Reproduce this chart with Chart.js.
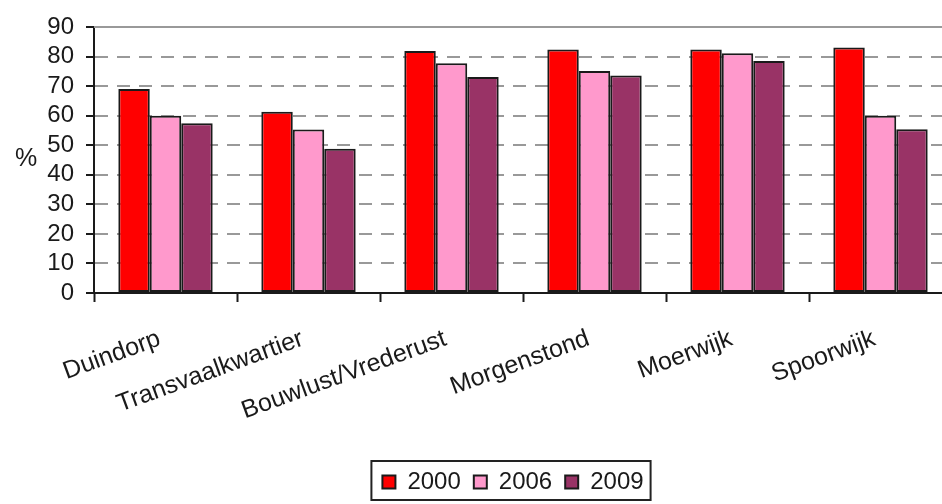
<!DOCTYPE html>
<html>
<head>
<meta charset="utf-8">
<script src="https://cdn.jsdelivr.net/npm/chart.js@4"></script>
<style>
  body { margin: 0; background: #fff; overflow: hidden; }
  #wrap { width: 942px; height: 504px; overflow: hidden; }
</style>
</head>
<body>
<div id="wrap"><canvas id="myChart" width="1026" height="504"></canvas></div>
<script>
const wijken = ["Duindorp", "Transvaalkwartier", "Bouwlust/Vrederust", "Morgenstond", "Moerwijk", "Spoorwijk"];
const jaren = ["2000", "2006", "2009"];
const waarden2000 = [69, 61.3, 81.9, 82.4, 82.4, 83.1];
const waarden2006 = [60, 55.3, 77.7, 75.1, 81.1, 60];
const waarden2009 = [57.4, 48.8, 73.1, 73.6, 78.5, 55.4];
const yTicks = [0, 10, 20, 30, 40, 50, 60, 70, 80, 90];

const font = "'Liberation Sans', Arial, sans-serif";
const plotBottom = 293;

// solid top gridline, "%" label and the frame round the legend
const extras = {
  id: "extras",
  beforeDatasetsDraw(chart) {
    const ctx = chart.ctx;
    const y = chart.scales.y.getPixelForValue(90);
    ctx.save();
    ctx.strokeStyle = "#999";
    ctx.lineWidth = 2;
    ctx.beginPath();
    ctx.moveTo(chart.chartArea.left, y);
    ctx.lineTo(chart.chartArea.right, y);
    ctx.stroke();
    ctx.restore();
  },
  afterDraw(chart) {
    const ctx = chart.ctx;
    ctx.save();
    ctx.fillStyle = "#1a1a1a";
    ctx.font = "25px " + font;
    ctx.textAlign = "center";
    ctx.textBaseline = "middle";
    ctx.fillText("%", 26, 159);
    const boxes = chart.legend.legendHitBoxes;
    if (boxes && boxes.length) {
      const first = boxes[0];
      const last = boxes[boxes.length - 1];
      ctx.strokeStyle = "#222";
      ctx.lineWidth = 2;
      ctx.strokeRect(first.left - 11, first.top - 9,
        last.left + last.width - first.left + 18, first.height + 15);
    }
    ctx.restore();
  }
};

const config = {
  type: "bar",
  data: {
    labels: wijken,
    datasets: [
      { label: jaren[0], data: waarden2000, backgroundColor: "#FF0000" },
      { label: jaren[1], data: waarden2006, backgroundColor: "#FF99CC" },
      { label: jaren[2], data: waarden2009, backgroundColor: "#993366" }
    ].map((d) => Object.assign(d, {
      borderColor: "#1a1a1a",
      borderWidth: 2,
      borderSkipped: false,
      categoryPercentage: 0.66,
      barPercentage: 1
    }))
  },
  options: {
    responsive: false,
    animation: false,
    layout: { padding: { top: 27, left: 0, right: 0, bottom: 0 } },
    plugins: {
      tooltip: { enabled: false },
      legend: {
        position: "bottom",
        labels: {
          boxWidth: 13,
          boxHeight: 13,
          padding: 13,
          color: "#1a1a1a",
          font: { family: font, size: 24 }
        }
      }
    },
    scales: {
      x: {
        grid: {
          drawOnChartArea: false,
          drawTicks: true,
          tickLength: 9,
          tickColor: "#1a1a1a",
          tickWidth: 2,
          offset: true
        },
        border: { color: "#1a1a1a", width: 2 },
        ticks: {
          color: "#1a1a1a",
          font: { family: font, size: 25 },
          minRotation: 20,
          maxRotation: 20,
          padding: 22,
          labelOffset: -6,
          autoSkip: false
        },
        afterFit(scale) {
          scale.height = 504 - plotBottom - scale.chart.legend.height;
        }
      },
      y: {
        min: 0,
        max: 90,
        afterBuildTicks(scale) {
          scale.ticks = yTicks.map((v) => ({ value: v }));
        },
        grid: {
          color: "#999",
          lineWidth: 2,
          tickLength: 8,
          tickColor: "#1a1a1a",
          tickWidth: 2
        },
        border: { color: "#1a1a1a", width: 2, dash: [13, 9] },
        ticks: {
          color: "#1a1a1a",
          font: { family: font, size: 24 },
          padding: 12,
          autoSkip: false
        },
        afterFit(scale) {
          scale.width = 94;
        }
      },
      yRight: {
        type: "linear",
        position: "right",
        display: true,
        grid: { display: false },
        border: { display: false },
        ticks: { display: false },
        afterFit(scale) {
          scale.width = 1026 - 952;
        }
      }
    }
  },
  plugins: [extras]
};

new Chart(document.getElementById("myChart"), config);
</script>
</body>
</html>
